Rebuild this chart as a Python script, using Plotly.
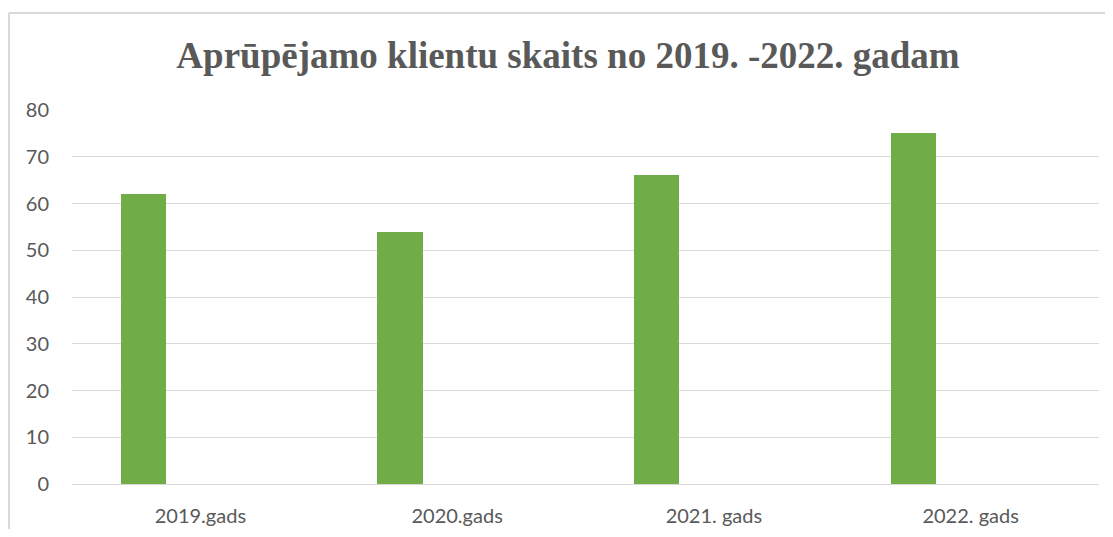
import plotly.graph_objects as go

categories = ["2019.gads", "2020.gads", "2021. gads", "2022. gads"]
values = [62, 54, 66, 75]
y_ticks = [0, 10, 20, 30, 40, 50, 60, 70, 80]
title_text = "Aprūpējamo klientu skaits no 2019. -2022. gadam"

# page body has an 8px margin, so the figure is placed at (8, 8)
OFF = 8
W, H = 1113 - 2 * OFF, 537 - 2 * OFF
L = 72 - OFF
R = W - (1099 - OFF)
T = 110 - OFF
B = H - (484 - OFF)
pw = W - L - R
ph = H - T - B

fig = go.Figure()
fig.add_trace(go.Bar(
    x=categories, y=values,
    marker=dict(color="#70ad47", line=dict(width=0)),
    width=0.177, offset=-0.311,
    showlegend=False, hoverinfo="x+y",
))

grey = "#595959"
fig.update_layout(
    width=W, height=H,
    margin=dict(l=L, r=R, t=T, b=B, autoexpand=False),
    paper_bgcolor="white", plot_bgcolor="white",
    title=dict(text="<b>" + title_text + "</b>", x=(568 - OFF - L) / pw, xref="paper", xanchor="center",
               y=1 - (55 - OFF) / H, yanchor="middle", yref="container",
               font=dict(family="Liberation Serif", size=37, color=grey)),
    xaxis=dict(showgrid=False, showline=False, zeroline=False, ticks="",
               ticklabelstandoff=18, automargin=False,
               tickfont=dict(family="Lato", size=20, color=grey)),
    yaxis=dict(range=[0, 80], tickvals=y_ticks, showgrid=True, gridcolor="#d9d9d9", gridwidth=1,
               zeroline=True, zerolinecolor="#d9d9d9", zerolinewidth=1, showline=False, ticks="",
               ticklabelstandoff=22, automargin=False,
               tickfont=dict(family="Lato", size=20, color=grey)),
    bargap=0,
)

# chart-area border (left and top)
bx = (8 - OFF - L) / pw + 0.001
by = (484 - 13) / ph
fig.add_shape(type="line", xref="paper", yref="paper", x0=bx, x1=bx, y0=by, y1=-0.3,
              line=dict(color="#d9d9d9", width=2))
fig.add_shape(type="line", xref="paper", yref="paper", x0=bx, x1=1.1, y0=by, y1=by,
              line=dict(color="#d9d9d9", width=2))

fig.write_html("out.html")
